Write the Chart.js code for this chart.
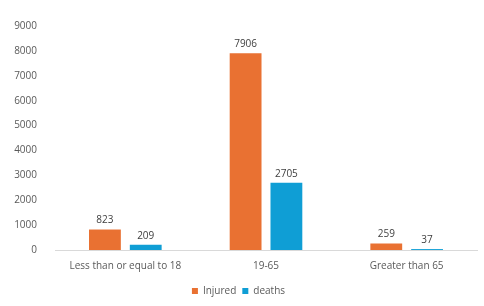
<!DOCTYPE html>
<html>
<head>
<meta charset="utf-8">
<script src="https://cdn.jsdelivr.net/npm/chart.js@4"></script>
<style>
  html, body { margin: 0; padding: 0; background: #fff; }
</style>
</head>
<body>
<canvas id="myChart" width="484" height="306"></canvas>
<script>
var categories = ["Less than or equal to 18", "19-65", "Greater than 65"];
var injured = [823, 7906, 259];
var deaths = [209, 2705, 37];
var yMax = 9000;
var yStep = 1000;

// draws the number above each bar
const valueLabels = {
  id: "valueLabels",
  afterDatasetsDraw(chart) {
    const ctx = chart.ctx;
    ctx.save();
    ctx.font = "10px 'Open Sans'";
    ctx.fillStyle = "#404040";
    ctx.textAlign = "center";
    ctx.textBaseline = "bottom";
    chart.data.datasets.forEach((ds, i) => {
      chart.getDatasetMeta(i).data.forEach((bar, j) => {
        ctx.fillText(ds.data[j], bar.x, bar.y - 4);
      });
    });
    ctx.restore();
  },
};

const ctx = document.getElementById("myChart").getContext("2d");
new Chart(ctx, {
  type: "bar",
  data: {
    labels: categories,
    datasets: [
      {
        label: "Injured",
        data: injured,
        backgroundColor: "#E97132",
        barPercentage: 0.78,
        categoryPercentage: 0.58,
      },
      {
        label: "deaths",
        data: deaths,
        backgroundColor: "#0F9ED5",
        barPercentage: 0.78,
        categoryPercentage: 0.58,
      },
    ],
  },
  options: {
    responsive: false,
    animation: false,
    layout: { padding: { top: 26, right: 7, left: 0, bottom: 0 } },
    scales: {
      x: {
        afterFit: (scale) => {
          scale.height += 6;
        },
        grid: { display: false },
        border: { color: "#d9d9d9" },
        ticks: {
          color: "#595959",
          font: { family: "Open Sans", size: 10 },
          padding: 2,
          maxRotation: 0,
          autoSkip: false,
        },
      },
      y: {
        min: 0,
        max: yMax,
        afterFit: (scale) => {
          scale.width = 55;
        },
        grid: { display: false },
        border: { display: false },
        ticks: {
          stepSize: yStep,
          autoSkip: false,
          callback: (v) => v,
          color: "#595959",
          font: { family: "Open Sans", size: 10 },
          padding: 10,
        },
      },
    },
    plugins: {
      legend: {
        position: "bottom",
        labels: {
          boxWidth: 6,
          boxHeight: 6,
          color: "#595959",
          font: { family: "Open Sans", size: 10 },
          padding: 6,
        },
      },
      tooltip: { enabled: false },
    },
  },
  plugins: [valueLabels],
});
</script>
</body>
</html>
